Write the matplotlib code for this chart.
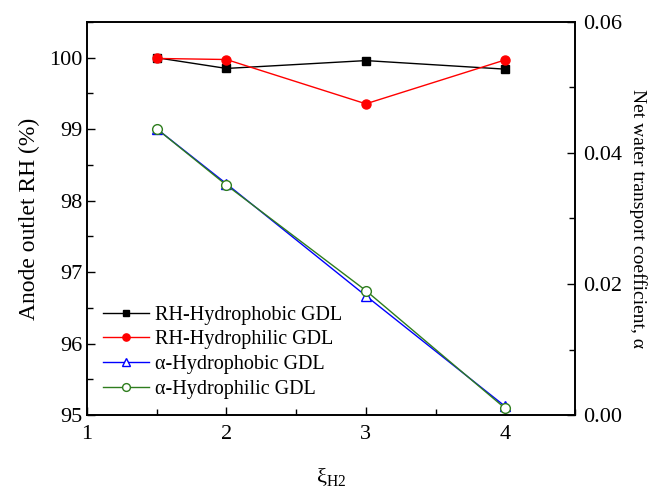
import matplotlib
matplotlib.use("Agg")
import matplotlib.pyplot as plt
from matplotlib.ticker import MultipleLocator

plt.rcParams['font.family'] = ['Liberation Serif', 'DejaVu Serif']
plt.rcParams['mathtext.fontset'] = 'custom'
plt.rcParams['mathtext.rm'] = 'Liberation Serif'
plt.rcParams['mathtext.it'] = 'Liberation Serif:italic'

# hydrogen stoichiometry
xi_h2 = [1.5, 2, 3, 4]

# anode outlet RH (%)
rh_phobic = [100.0, 99.85, 99.96, 99.84]
rh_philic = [99.99, 99.975, 99.355, 99.97]

# net water transport coefficient
alpha_phobic = [0.0437, 0.0353, 0.0182, 0.0013]
alpha_philic = [0.0437, 0.0351, 0.0190, 0.0010]

fig = plt.figure(figsize=(6.55, 4.88), dpi=100)
ax = fig.add_axes([87/655, 1 - 415/488, (575-87)/655, (415-22)/488])
ax2 = ax.twinx()

l1, = ax.plot(xi_h2, rh_phobic, color='black', marker='s', ms=6, lw=1,
              label='RH-Hydrophobic GDL')
l2, = ax.plot(xi_h2, rh_philic, color='red', marker='o', ms=6.5, lw=1,
              label='RH-Hydrophilic GDL')
l3, = ax2.plot(xi_h2, alpha_phobic, color='blue', marker='^', ms=7, lw=1,
               mfc='white', label='α-Hydrophobic GDL')
l4, = ax2.plot(xi_h2, alpha_philic, color='#2e7d1e', marker='o', ms=7, lw=1,
               mfc='white', label='α-Hydrophilic GDL')

ax.set_xlim(1, 4.5)
ax.set_ylim(95, 100.5)
ax2.set_ylim(0, 0.06)

ax.xaxis.set_major_locator(MultipleLocator(1))
ax.xaxis.set_minor_locator(MultipleLocator(0.5))
ax.yaxis.set_major_locator(MultipleLocator(1))
ax.yaxis.set_minor_locator(MultipleLocator(0.5))
ax2.yaxis.set_major_locator(MultipleLocator(0.02))
ax2.yaxis.set_minor_locator(MultipleLocator(0.01))
ax2.yaxis.set_major_formatter(matplotlib.ticker.FormatStrFormatter('%.2f'))

for a in (ax, ax2):
    a.tick_params(which='both', direction='in', labelsize=16, width=1)
    a.tick_params(which='major', length=6)
    a.tick_params(which='minor', length=4)
    for s in a.spines.values():
        s.set_linewidth(1.2)
ax.tick_params(axis='x', pad=7)
ax2.tick_params(axis='y', pad=6)

ax.set_ylabel('Anode outlet RH (%)', fontsize=17, labelpad=6)
ax2.set_ylabel('Net water transport coefficient, α', fontsize=14,
               rotation=270, labelpad=18)
ax.set_xlabel(r'ξ$_{\mathrm{H2}}$', fontsize=16, labelpad=16)

ax.legend(handles=[l1, l2, l3, l4], loc='lower left', frameon=False,
          fontsize=14.5, handlelength=2.3, handletextpad=0.3, labelspacing=0.28,
          markerscale=0.8, bbox_to_anchor=(-0.005, -0.005))

fig.savefig('out.png', dpi=100)
